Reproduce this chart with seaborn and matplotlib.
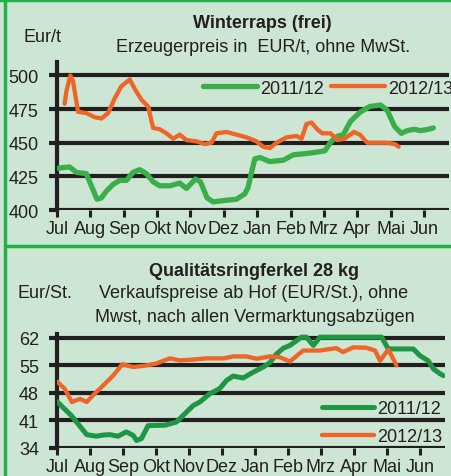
import matplotlib.pyplot as plt
import matplotlib.lines as mlines
import numpy as np
import pandas as pd
import seaborn as sns

BG = '#cde6d3'
FRAME = '#22b04b'
GREEN_TOP = '#3aae48'
GREEN_BOT = '#1e9644'
ORANGE = '#ee6527'
INK = '#231f20'

months = ['Jul', 'Aug', 'Sep', 'Okt', 'Nov', 'Dez', 'Jan', 'Feb', 'Mrz', 'Apr', 'Mai', 'Jun']

# Winterraps, EUR/t (x = months since 1 July)
raps_x_1112 = [0, 0.38, 0.58, 0.88, 1.03, 1.2, 1.33, 1.48, 1.68, 1.88, 2.08, 2.28, 2.48, 2.68, 2.88,
               3.08, 3.38, 3.68, 3.88, 4.15, 4.3, 4.5, 4.68, 4.98, 5.38, 5.63, 5.73, 5.83, 5.93, 6.08,
               6.38, 6.78, 7.08, 7.48, 7.78, 8.03, 8.22, 8.42, 8.58, 8.8, 9.1, 9.38, 9.7, 9.9, 10.12,
               10.32, 10.5, 10.7, 10.9, 11.13, 11.28]
raps_y_1112 = [431, 432, 428, 427, 418, 408, 409, 414, 419, 422, 422, 428, 430, 427, 421,
               418, 418, 420, 416, 423, 421, 409, 406, 407, 408, 412, 417, 428, 438, 439,
               436, 437, 441, 442, 443, 444, 451, 455, 456, 466, 473, 477, 478, 474, 462,
               457, 459, 460, 459, 460, 461]
raps_x_1213 = [0.23, 0.28, 0.4, 0.48, 0.63, 0.88, 1.13, 1.33, 1.53, 1.73, 1.93, 2.18, 2.33, 2.53,
               2.73, 2.88, 3.08, 3.28, 3.48, 3.68, 3.88, 4.18, 4.43, 4.63, 4.78, 5.08, 5.38, 5.68,
               5.98, 6.18, 6.38, 6.58, 6.88, 7.18, 7.33, 7.48, 7.63, 7.8, 7.95, 8.2, 8.4, 8.62,
               8.9, 9.08, 9.3, 9.6, 9.88, 10.13, 10.24]
raps_y_1213 = [479, 488, 500, 496, 473, 472, 469, 468, 472, 483, 492, 497, 490, 482,
               477, 461, 460, 457, 453, 456, 452, 451, 449, 450, 457, 458, 456, 454,
               451, 447, 446, 450, 454, 455, 453, 464, 465, 460, 457, 457, 452, 453,
               458, 456, 450, 450, 450, 449, 447]

# Qualitaetsringferkel 28 kg, EUR/St.
ferkel_x_1112 = [0, 0.43, 0.9, 1.19, 1.4, 1.6, 1.85, 2.1, 2.31, 2.41, 2.56, 2.76, 3.27, 3.62, 3.92,
                 4.13, 4.33, 4.63, 4.93, 5.14, 5.34, 5.64, 5.95, 6.25, 6.45, 6.65, 6.86, 7.06, 7.26,
                 7.41, 7.56, 7.77, 7.97, 8.37, 8.88, 9.38, 9.84, 10.04, 10.39, 10.8, 11.0, 11.25,
                 11.41, 11.61, 11.71]
ferkel_y_1112 = [45.8, 42.3, 37.4, 37.0, 37.3, 37.4, 37.0, 38.1, 37.2, 35.9, 36.4, 39.7, 39.8, 40.6, 43.1,
                 44.8, 45.7, 47.8, 49.1, 51.2, 52.3, 51.8, 53.3, 54.6, 55.7, 57.9, 59.4, 60.1, 61.3,
                 62.2, 62.2, 60.1, 62.2, 62.2, 62.2, 62.2, 62.2, 59.2, 59.2, 59.2, 57.5, 56.2,
                 54.1, 52.9, 52.4]
ferkel_x_1213 = [0, 0.23, 0.45, 0.7, 0.9, 1.09, 1.4, 1.7, 1.98, 2.31, 2.71, 3.01, 3.42, 3.72, 4.13,
                 4.53, 5.04, 5.34, 5.74, 6.05, 6.45, 6.75, 7.06, 7.46, 7.97, 8.47, 8.67, 8.98, 9.38,
                 9.64, 9.79, 10.04, 10.14, 10.29]
ferkel_y_1213 = [50.9, 49.1, 45.7, 46.5, 45.7, 47.4, 49.9, 52.4, 55.3, 54.6, 55.0, 55.5, 56.8, 56.3, 56.5,
                 56.8, 56.8, 57.3, 57.3, 56.7, 57.3, 57.1, 56.0, 58.8, 58.8, 59.4, 58.4, 59.6, 59.5,
                 58.8, 56.2, 59.0, 57.5, 55.0]

FS = 13

sns.set_style('white', {'axes.facecolor': BG, 'figure.facecolor': BG})
plt.rcParams['font.family'] = ['Liberation Sans', 'DejaVu Sans']
plt.rcParams['font.size'] = FS
plt.rcParams['text.color'] = INK

fig = plt.figure(figsize=(4.52, 4.77), dpi=100)
W, H = 452, 477


def box(x0, x1, ytop, ybot):
    return [x0 / W, 1 - ybot / H, (x1 - x0) / W, (ybot - ytop) / H]


ax1 = fig.add_axes(box(57, 449, 63, 211))
ax2 = fig.add_axes(box(57, 445, 335, 449))


def style(ax, yticks, ylim, xmax):
    ax.set_facecolor(BG)
    ax.set_xlim(0, xmax)
    ax.set_ylim(*ylim)
    ax.set_yticks(yticks)
    ax.set_xticks(range(12))
    ax.set_xticklabels(months)
    ax.set_xlabel('')
    ax.set_ylabel('')
    ax.set_axisbelow(True)
    for y in yticks:
        ax.axhline(y, color=INK, lw=3, zorder=1, solid_capstyle='butt')
    for s in ['top', 'right', 'bottom']:
        ax.spines[s].set_visible(False)
    ax.spines['left'].set_color(INK)
    ax.spines['left'].set_linewidth(3)
    ax.tick_params(axis='x', length=5, width=2.2, color=INK, pad=2, labelsize=FS,
                   labelcolor=INK, bottom=True, direction='out')
    ax.tick_params(axis='y', length=6, width=3, color=INK, pad=7, labelsize=FS,
                   labelcolor=INK, left=True, direction='out')


sns.lineplot(x=raps_x_1112, y=raps_y_1112, ax=ax1, color=GREEN_TOP, lw=3.8, label='2011/12', zorder=3)
sns.lineplot(x=raps_x_1213, y=raps_y_1213, ax=ax1, color=ORANGE, lw=3.1, label='2012/13', zorder=4)
style(ax1, [400, 425, 450, 475, 500], (400, 510), 11.75)
ax1.legend(loc='center left', bbox_to_anchor=(203 / W, 1 - 89 / H), bbox_transform=fig.transFigure,
           ncol=2, frameon=False, handlelength=3.0, handletextpad=0.15, columnspacing=0.4,
           borderpad=0, borderaxespad=0, fontsize=FS)

sns.lineplot(x=ferkel_x_1112, y=ferkel_y_1112, ax=ax2, color=GREEN_BOT, lw=3.6, label='2011/12', zorder=3)
sns.lineplot(x=ferkel_x_1213, y=ferkel_y_1213, ax=ax2, color=ORANGE, lw=3.1, label='2012/13', zorder=4)
style(ax2, [34, 41, 48, 55, 62], (34, 63), 11.76)
leg = ax2.legend(loc='center left', bbox_to_anchor=(322 / W, 1 - 423.5 / H), bbox_transform=fig.transFigure,
                 ncol=1, frameon=False, handlelength=2.9, handletextpad=0.15, labelspacing=0.62,
                 borderpad=0, borderaxespad=0, fontsize=FS)
leg.set_zorder(5)

# titles and units
fig.text(262 / W, 1 - 23 / H, 'Winterraps (frei)', ha='center', va='center', fontweight='bold', fontsize=FS)
fig.text(263 / W, 1 - 48 / H, 'Erzeugerpreis in  EUR/t, ohne MwSt.', ha='center', va='center', fontsize=FS)
fig.text(24 / W, 1 - 38 / H, 'Eur/t', ha='left', va='center', fontsize=FS)

fig.text(254 / W, 1 - 272 / H, 'Qualitätsringferkel 28 kg', ha='center', va='center', fontweight='bold', fontsize=FS)
fig.text(18 / W, 1 - 294 / H, 'Eur/St.', ha='left', va='center', fontsize=FS)
fig.text(254 / W, 1 - 294 / H, 'Verkaufspreise ab Hof (EUR/St.), ohne', ha='center', va='center', fontsize=FS)
fig.text(255 / W, 1 - 317 / H, 'Mwst, nach allen Vermarktungsabzügen', ha='center', va='center', fontsize=FS)

# green frame
fig.add_artist(mlines.Line2D([5.5 / W, 5.5 / W], [0, 1], color=FRAME, lw=2.5))
fig.add_artist(mlines.Line2D([0, 1], [1 - 1 / H, 1 - 1 / H], color=FRAME, lw=2.5))
fig.add_artist(mlines.Line2D([5.5 / W, 1], [1 - 246.5 / H, 1 - 246.5 / H], color=FRAME, lw=2.5))

fig.savefig('out.png', dpi=100, facecolor=BG)
